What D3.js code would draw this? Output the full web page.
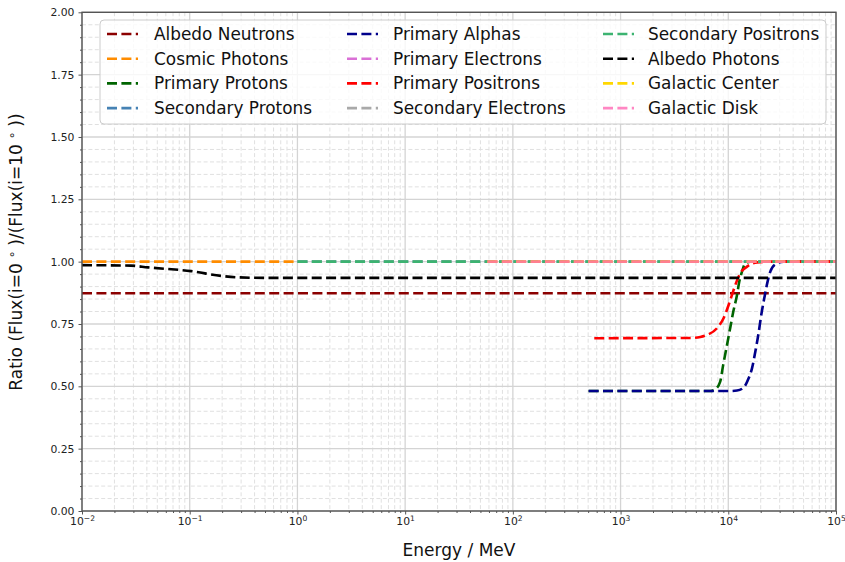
<!DOCTYPE html>
<html>
<head>
<meta charset="utf-8">
<script src="https://cdn.jsdelivr.net/npm/d3@7"></script>
<style>
  html, body { margin: 0; padding: 0; background: #ffffff; }
  svg { display: block; font-family: "DejaVu Sans", sans-serif; }
</style>
</head>
<body>
<svg id="chart" width="845" height="562"></svg>
<script>
// ---- Series (drawing order) ----
const seriesNames = [
  "Albedo Neutrons", "Cosmic Photons", "Primary Protons", "Secondary Protons",
  "Primary Alphas", "Primary Electrons", "Primary Positrons", "Secondary Electrons",
  "Secondary Positrons", "Albedo Photons", "Galactic Center", "Galactic Disk"
];
const seriesColors = [
  "#8b0000", "#ff8c00", "#006400", "#4682b4",
  "#00008b", "#da70d6", "#ff0000", "#a9a9a9",
  "#3cb371", "#000000", "#ffd700", "#ff69b4"
];
const seriesOpacity = [1, 1, 1, 1, 1, 1, 1, 1, 1, 1, 1, 0.8];

// ---- Energies (MeV) and flux ratios ----
const albedoNeutronsEnergy = [1e-2, 1e5];
const albedoNeutronsRatio  = [0.873, 0.873];

const cosmicPhotonsEnergy = [1e-2, 1];
const cosmicPhotonsRatio  = [1.0, 1.0];

const primaryProtonsEnergy = [505, 6800, 7570, 8410, 8970, 9730, 10420, 11120, 12050, 12650, 13400, 14390, 16000, 1e5];
const primaryProtonsRatio  = [0.481, 0.481, 0.488, 0.519, 0.586, 0.666, 0.734, 0.799, 0.866, 0.920, 0.960, 0.993, 1.0, 1.0];

const secondaryProtonsEnergy = [1, 1e5];
const secondaryProtonsRatio  = [1.0, 1.0];

const primaryAlphasEnergy = [505, 10000, 12050, 13870, 15450, 16600, 17820, 19100, 20230, 21580, 23170, 24550, 27290, 32580, 1e5];
const primaryAlphasRatio  = [0.481, 0.481, 0.483, 0.495, 0.532, 0.572, 0.639, 0.713, 0.786, 0.853, 0.920, 0.960, 0.989, 1.0, 1.0];

const primaryElectronsEnergy = [58, 1e5];
const primaryElectronsRatio  = [1.0, 1.0];

const primaryPositronsEnergy = [570, 4440, 5500, 6340, 7850, 9040, 10070, 10810, 11610, 12910, 14930, 18450, 24550, 1e5];
const primaryPositronsRatio  = [0.693, 0.694, 0.698, 0.706, 0.733, 0.773, 0.826, 0.866, 0.906, 0.953, 0.980, 0.997, 1.0, 1.0];

const secondaryElectronsEnergy = [1, 1e5];
const secondaryElectronsRatio  = [1.0, 1.0];

const secondaryPositronsEnergy = [1, 1e5];
const secondaryPositronsRatio  = [1.0, 1.0];

const albedoPhotonsEnergy = [1e-2, 0.0285, 0.041, 0.103, 0.195, 0.28, 0.5, 1e5];
const albedoPhotonsRatio  = [0.986, 0.984, 0.977, 0.962, 0.943, 0.937, 0.935, 0.935];

const galacticCenterEnergy = [58, 1e5];
const galacticCenterRatio  = [1.0, 1.0];

const galacticDiskEnergy = [58, 1e5];
const galacticDiskRatio  = [1.0, 1.0];

// ---- Axis ticks ----
const xTickValues = [1e-2, 1e-1, 1e0, 1e1, 1e2, 1e3, 1e4, 1e5];
const xTickExponents = ["\u22122", "\u22121", "0", "1", "2", "3", "4", "5"];
const yTickValues = [0, 0.25, 0.5, 0.75, 1.0, 1.25, 1.5, 1.75, 2.0];
const yTickLabels = ["0.00", "0.25", "0.50", "0.75", "1.00", "1.25", "1.50", "1.75", "2.00"];

const xLabel = "Energy / MeV";

// ---- Assemble series table ----
const energyLists = [
  albedoNeutronsEnergy, cosmicPhotonsEnergy, primaryProtonsEnergy, secondaryProtonsEnergy,
  primaryAlphasEnergy, primaryElectronsEnergy, primaryPositronsEnergy, secondaryElectronsEnergy,
  secondaryPositronsEnergy, albedoPhotonsEnergy, galacticCenterEnergy, galacticDiskEnergy
];
const ratioLists = [
  albedoNeutronsRatio, cosmicPhotonsRatio, primaryProtonsRatio, secondaryProtonsRatio,
  primaryAlphasRatio, primaryElectronsRatio, primaryPositronsRatio, secondaryElectronsRatio,
  secondaryPositronsRatio, albedoPhotonsRatio, galacticCenterRatio, galacticDiskRatio
];
const series = seriesNames.map((name, i) => ({
  name,
  color: seriesColors[i],
  opacity: seriesOpacity[i],
  points: energyLists[i].map((e, j) => ({ e, r: ratioLists[i][j] }))
}));

// ---- Layout ----
const plot = { left: 82, right: 836, top: 12.3, bottom: 511 };
const svg = d3.select("#chart");

const x = d3.scaleLog().domain([1e-2, 1e5]).range([plot.left, plot.right]);
const y = d3.scaleLinear().domain([0, 2]).range([plot.bottom, plot.top]);

// minor tick positions
const xMinor = [];
for (let p = -2; p < 5; p++) for (let k = 2; k <= 9; k++) xMinor.push(k * Math.pow(10, p));
const yMinor = d3.range(0, 2.0001, 0.05).filter(v => Math.abs(v / 0.25 - Math.round(v / 0.25)) > 1e-6);

// ---- Grid ----
const grid = svg.append("g");
grid.selectAll(".gxm").data(xMinor).join("line")
  .attr("x1", d => x(d)).attr("x2", d => x(d))
  .attr("y1", plot.top).attr("y2", plot.bottom)
  .attr("stroke", "#e0e0e0").attr("stroke-width", 1).attr("stroke-dasharray", "4,2.4");
grid.selectAll(".gym").data(yMinor).join("line")
  .attr("x1", plot.left).attr("x2", plot.right)
  .attr("y1", d => y(d)).attr("y2", d => y(d))
  .attr("stroke", "#e0e0e0").attr("stroke-width", 1).attr("stroke-dasharray", "4,2.4");
grid.selectAll(".gx").data(xTickValues).join("line")
  .attr("x1", d => x(d)).attr("x2", d => x(d))
  .attr("y1", plot.top).attr("y2", plot.bottom)
  .attr("stroke", "#d4d4d4").attr("stroke-width", 1.3);
grid.selectAll(".gy").data(yTickValues).join("line")
  .attr("x1", plot.left).attr("x2", plot.right)
  .attr("y1", d => y(d)).attr("y2", d => y(d))
  .attr("stroke", "#d4d4d4").attr("stroke-width", 1.3);

// ---- Series lines ----
svg.append("clipPath").attr("id", "plotClip").append("rect")
  .attr("x", plot.left).attr("y", plot.top)
  .attr("width", plot.right - plot.left).attr("height", plot.bottom - plot.top);

const line = d3.line()
  .x(d => x(d.e))
  .y(d => y(d.r))
  .curve(d3.curveMonotoneX);

const dash = "10,4.4";
const lineWidth = 2.6;

svg.append("g").attr("clip-path", "url(#plotClip)")
  .selectAll("path").data(series).join("path")
  .attr("d", d => line(d.points))
  .attr("fill", "none")
  .attr("stroke", d => d.color)
  .attr("stroke-opacity", d => d.opacity)
  .attr("stroke-width", lineWidth)
  .attr("stroke-dasharray", dash);

// ---- Axes ----
const axisColor = "#555555";
const tickFont = 10.8;

const xAxis = svg.append("g").attr("transform", `translate(0,${plot.bottom})`)
  .call(d3.axisBottom(x).tickValues(xTickValues).tickSize(3.5).tickSizeOuter(0).tickPadding(3).tickFormat(() => ""));
const xAxisMinor = svg.append("g").attr("transform", `translate(0,${plot.bottom})`)
  .call(d3.axisBottom(x).tickValues(xMinor).tickSize(2).tickSizeOuter(0).tickFormat(() => ""));
const yAxis = svg.append("g").attr("transform", `translate(${plot.left},0)`)
  .call(d3.axisLeft(y).tickValues(yTickValues).tickSize(3.5).tickSizeOuter(0).tickPadding(4)
    .tickFormat((d, i) => yTickLabels[i]));
const yAxisMinor = svg.append("g").attr("transform", `translate(${plot.left},0)`)
  .call(d3.axisLeft(y).tickValues(yMinor).tickSize(2).tickSizeOuter(0).tickFormat(() => ""));

[xAxis, xAxisMinor, yAxis, yAxisMinor].forEach(g => {
  g.select(".domain").remove();
  g.selectAll(".tick line").attr("stroke", axisColor).attr("stroke-width", 1);
  g.selectAll(".tick text").attr("fill", "#222222")
    .style("font-family", "'DejaVu Sans', sans-serif").style("font-size", tickFont + "px");
});

// log tick labels: 10 with superscripted exponent
xAxis.selectAll(".tick text").each(function (d, i) {
  const t = d3.select(this).text(null).attr("dy", null).attr("y", 14.2);
  t.append("tspan").text("10");
  t.append("tspan").attr("dy", -4.6).style("font-size", "7.6px").text(xTickExponents[i]);
});

// spines
svg.append("rect")
  .attr("x", plot.left).attr("y", plot.top)
  .attr("width", plot.right - plot.left).attr("height", plot.bottom - plot.top)
  .attr("fill", "none").attr("stroke", axisColor).attr("stroke-width", 1.4);

// ---- Axis labels ----
svg.append("text")
  .attr("x", (plot.left + plot.right) / 2).attr("y", 556)
  .attr("text-anchor", "middle")
  .style("font-size", "17px").attr("fill", "#111")
  .text(xLabel);

const yl = svg.append("text")
  .attr("transform", "translate(22,252) rotate(-90)")
  .attr("text-anchor", "middle")
  .style("font-size", "17px").attr("fill", "#111");
yl.append("tspan").text("Ratio (Flux(i=0");
yl.append("tspan").attr("dx", 5).attr("dy", -6).style("font-size", "12px").text("\u2218");
yl.append("tspan").attr("dx", 5).attr("dy", 6).text(")/(Flux(i=10");
yl.append("tspan").attr("dx", 5).attr("dy", -6).style("font-size", "12px").text("\u2218");
yl.append("tspan").attr("dx", 5).attr("dy", 6).text("))");

// ---- Legend ----
const legend = svg.append("g");
legend.append("rect")
  .attr("x", 100).attr("y", 20).attr("width", 726).attr("height", 104)
  .attr("rx", 4).attr("ry", 4)
  .attr("fill", "#ffffff").attr("fill-opacity", 0.8)
  .attr("stroke", "#cccccc").attr("stroke-width", 1);

const colLine = [107, 347, 603];
const colText = [154, 393, 648];
const rowY0 = 34, rowStep = 24.7;

const items = legend.selectAll("g.item").data(series).join("g")
  .attr("transform", (d, i) => `translate(0,${rowY0 + (i % 4) * rowStep})`);
items.append("line")
  .attr("x1", (d, i) => colLine[Math.floor(i / 4)])
  .attr("x2", (d, i) => colLine[Math.floor(i / 4)] + 31)
  .attr("y1", 0).attr("y2", 0)
  .attr("stroke", d => d.color)
  .attr("stroke-opacity", d => d.opacity)
  .attr("stroke-width", lineWidth)
  .attr("stroke-dasharray", dash);
items.append("text")
  .attr("x", (d, i) => colText[Math.floor(i / 4)])
  .attr("y", 6)
  .style("font-size", "16.9px").attr("fill", "#111")
  .text(d => d.name);
</script>
</body>
</html>
